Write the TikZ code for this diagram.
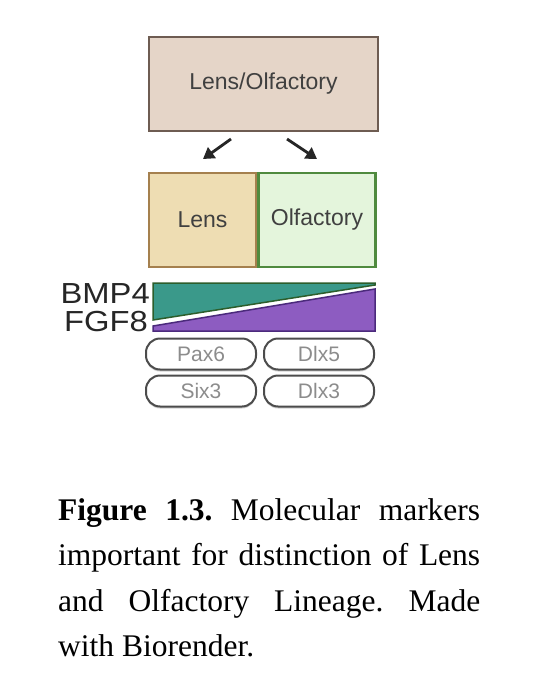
\documentclass[tikz,border=0pt]{standalone}
\usepackage{fontspec}
\setmainfont{Liberation Serif}
\setsansfont{Liberation Sans}
\usetikzlibrary{arrows.meta,shadows}

\definecolor{topfill}{HTML}{E5D5C8}
\definecolor{topline}{HTML}{6E5C52}
\definecolor{lensfill}{HTML}{EEDDB3}
\definecolor{lensline}{HTML}{A5804E}
\definecolor{olffill}{HTML}{E4F5DC}
\definecolor{olfline}{HTML}{4F8A3E}
\definecolor{bmpfill}{HTML}{3A998A}
\definecolor{bmpline}{HTML}{2C5E2C}
\definecolor{fgffill}{HTML}{8D5CC1}
\definecolor{fgfline}{HTML}{4B2A7C}

\begin{document}
\begin{tikzpicture}[x=1pt,y=-1pt]
	\tikzset{cellbox/.style={rectangle, draw, line width=2.5pt,
				minimum height=94pt, inner sep=0pt,
				font=\sffamily\fontsize{23}{23}\selectfont, text=black!75}}
	\tikzset{genepill/.style={rectangle, rounded corners=14pt, draw=black!70,
				line width=2pt, fill=white, minimum width=110pt,
				minimum height=31pt, inner sep=0pt, text=black!45,
				font=\sffamily\fontsize{21}{21}\selectfont,
				drop shadow={shadow xshift=0pt, shadow yshift=-2pt, opacity=0.35}}}
	\tikzset{fatearrow/.style={-{Triangle[length=11pt,width=13pt]}, line width=2.8pt, black!85}}
	\tikzset{sidelabel/.style={anchor=south east, inner sep=0pt,
				text height=21pt, text depth=0pt,
				font=\sffamily\fontsize{29}{29}\selectfont, text=black!85}}

	\useasboundingbox (0,0) rectangle (535,680);

	% lineage boxes
	\node[cellbox, fill=topfill, draw=topline, minimum width=229pt] (both) at (263.5,84) {Lens/Olfactory};
	\node[cellbox, fill=lensfill, draw=lensline, minimum width=107pt] (lens) at (202.5,220) {Lens};
	\node[cellbox, fill=olffill, draw=olfline, minimum width=117pt] (olf) at (317,220) {Olfactory};

	\coordinate (l1) at (231,139);
	\coordinate (l2) at (203,159);
	\coordinate (r1) at (287,139);
	\coordinate (r2) at (317,159);
	\draw[fatearrow] (l1) -- (l2);
	\draw[fatearrow] (r1) -- (r2);

	% gradients
	\draw[fill=bmpfill, draw=bmpline, line width=1.5pt] (153,283) -- (375,283) -- (375,285) -- (153,320) -- cycle;
	\draw[fill=fgffill, draw=fgfline, line width=1.5pt] (153,326) -- (375,289) -- (375,331) -- (153,331) -- cycle;
	\node[sidelabel] (bmp) at (150,304) {\scalebox{1.13}[1]{BMP4}};
	\node[sidelabel] (fgf) at (148,332) {\scalebox{1.13}[1]{FGF8}};

	% markers
	\node[genepill] (pax) at (201,354) {Pax6};
	\node[genepill] (dlxa) at (319,354) {Dlx5};
	\node[genepill] (six) at (201,391) {Six3};
	\node[genepill] (dlxb) at (319,391) {Dlx3};

	\node[anchor=north west, inner sep=0pt, text width=422pt, align=justify,
		font=\frenchspacing\fontsize{31.5}{45.5}\selectfont] (cap) at (58,498)
		{\textbf{Figure 1.3.} Molecular markers\linebreak important for distinction of Lens\linebreak and Olfactory Lineage. Made\linebreak with Biorender.};
\end{tikzpicture}
\end{document}
